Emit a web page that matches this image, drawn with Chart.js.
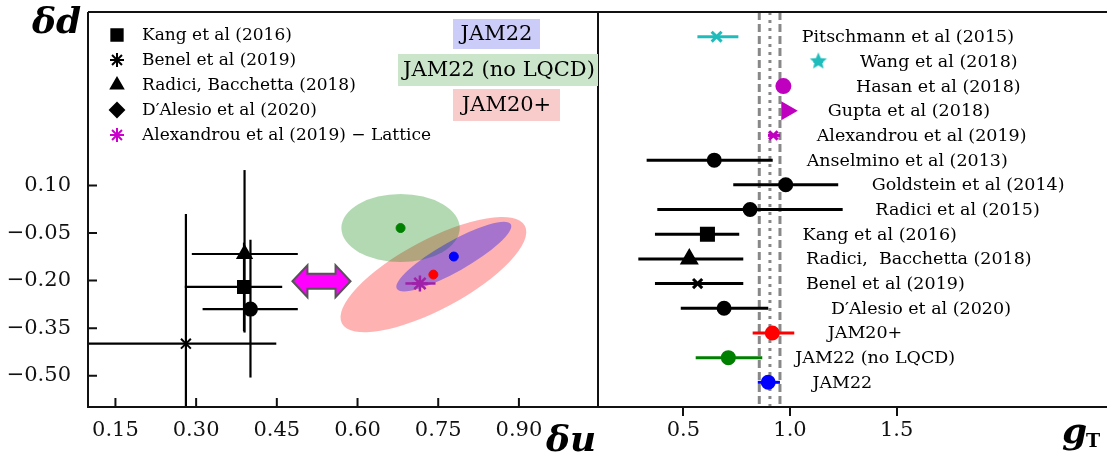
<!DOCTYPE html>
<html>
<head>
<meta charset="utf-8">
<script src="https://cdn.jsdelivr.net/npm/chart.js@4"></script>
<style>
body { margin: 0; background: #fff; width: 1107px; height: 458px; overflow: hidden; position: relative; }
#wrapL { position: absolute; left: 0; top: 0; width: 600px; height: 458px; }
#wrapR { position: absolute; left: 598px; top: 0; width: 509px; height: 458px; }
</style>
</head>
<body>
<div id="wrapL"><canvas id="leftChart"></canvas></div>
<div id="wrapR"><canvas id="rightChart"></canvas></div>
<script>
// ---- left panel data (delta u, delta d) ----
var uTicks = [0.15, 0.30, 0.45, 0.60, 0.75, 0.90];
var dTicks = [0.10, -0.05, -0.20, -0.35, -0.50];

var phenoNames = ["Kang et al (2016)", "Benel et al (2019)", "Radici, Bacchetta (2018)", "D\u2032Alesio et al (2020)"];
var phenoU   = [0.389, 0.281, 0.390, 0.401];
var phenoULo = [0.279, 0.060, 0.292, 0.312];
var phenoUHi = [0.460, 0.449, 0.489, 0.489];
var phenoD   = [-0.220, -0.399, -0.116, -0.290];
var phenoDLo = [-0.360, -0.810, -0.364, -0.506];
var phenoDHi = [-0.080, 0.010, 0.149, -0.071];

var latticeName = "Alexandrou et al (2019) \u2212 Lattice";
var latticeU = [0.716], latticeULo = [0.689], latticeUHi = [0.745];
var latticeD = [-0.209];

var jamNames = ["JAM22", "JAM22 (no LQCD)", "JAM20+"];
var jamU = [0.779, 0.680, 0.741];
var jamD = [-0.124, -0.034, -0.181];
// ellipse: major half-axis (du, dd) and minor/major ratio
var jamAxisU = [0.106, 0.110, 0.170];
var jamAxisD = [0.102, 0.000, 0.154];
var jamRatio = [0.23, 0.576, 0.335];

// ---- right panel data (g_T) ----
var gtNames = ["Pitschmann et al (2015)", "Wang et al (2018)", "Hasan et al (2018)", "Gupta et al (2018)",
  "Alexandrou et al (2019)", "Anselmino et al (2013)", "Goldstein et al (2014)", "Radici et al (2015)",
  "Kang et al (2016)", "Radici,  Bacchetta (2018)", "Benel et al (2019)", "D\u2032Alesio et al (2020)",
  "JAM20+", "JAM22 (no LQCD)", "JAM22"];
var gtVal = [0.656, 1.133, 0.969, 0.985, 0.922, 0.645, 0.980, 0.813, 0.613, 0.528, 0.567, 0.691, 0.917, 0.711, 0.898];
var gtLo  = [0.566, 1.110, 0.945, 0.965, 0.897, 0.328, 0.734, 0.378, 0.367, 0.289, 0.367, 0.488, 0.825, 0.558, 0.849];
var gtHi  = [0.758, 1.155, 0.990, 1.000, 0.953, 0.919, 1.226, 1.247, 0.762, 0.781, 0.781, 0.898, 1.020, 0.870, 0.953];
var gtBand = [0.856, 0.906, 0.953];
var gtTicks = [0.5, 1.0, 1.5];
var gtLabelAt = [1.055, 1.328, 1.309, 1.177, 1.125, 1.078, 1.383, 1.400, 1.059, 1.075, 1.075, 1.192, 1.177, 1.025, 1.105];

// styles
var CYAN = "#1fbcbc", MAG = "#bf00bf", BLK = "#000";
var SERIF = "'DejaVu Serif', serif";

function starCanvas(color, r) {
    var c = document.createElement("canvas");
    c.width = c.height = 2 * r + 2;
    var g = c.getContext("2d");
    g.fillStyle = color;
    g.beginPath();
    for (var k = 0; k < 10; k++) {
        var rr = k % 2 ? r * 0.45 : r;
        var a = -Math.PI / 2 + k * Math.PI / 5;
        g.lineTo(r + 1 + rr * Math.cos(a), r + 1 + rr * Math.sin(a));
    }
    g.closePath();
    g.fill();
    return c;
}

var gtColor = [CYAN, CYAN, MAG, MAG, MAG, BLK, BLK, BLK, BLK, BLK, BLK, BLK, "#ff0000", "#008000", "#0000ff"];
var gtStyle = ["crossRot", starCanvas(CYAN, 9), "circle", "triangle", "crossRot", "circle", "circle", "circle",
  "rect", "triangle", "crossRot", "circle", "circle", "circle", "circle"];
var gtRot = [0, 0, 0, 90, 0, 0, 0, 0, 0, 0, 0, 0, 0, 0, 0];
var gtRad = [7, 9, 6.5, 8, 6, 6, 6, 6, 8.5, 8, 6.5, 6, 6, 6, 6];

var phenoStyle = ["rect", "crossRot", "triangle", "circle"];
var phenoRad = [8.5, 7, 8, 6.5];
var jamColor = ["#0000ff", "#008000", "#ff0000"];
var jamFill = ["rgba(0,0,255,0.35)", "rgba(0,128,0,0.3)", "rgba(255,0,0,0.3)"];

function fmtSigned(v, n) {
    return (v < -1e-9 ? "\u2212" : "") + Math.abs(v).toFixed(n);
}

function mark(ctx, style, radius, rot, color, x, y) {
    ctx.save();
    ctx.fillStyle = color;
    ctx.strokeStyle = color;
    ctx.lineWidth = 2;
    Chart.helpers.drawPoint(ctx, {pointStyle: style, radius: radius, rotation: rot || 0, borderWidth: 2}, x, y);
    ctx.restore();
}

// chart.js reserves half a label at the axis ends; these panels don't want that
function noEdgePad(s) {
    s.paddingTop = 0; s.paddingBottom = 0; s.paddingLeft = 0; s.paddingRight = 0;
}

// ---------------- left chart ----------------
var leftSets = [];
for (var i = 0; i < phenoNames.length; i++) {
    leftSets.push({data: [{x: phenoULo[i], y: phenoD[i]}, {x: phenoUHi[i], y: phenoD[i]}],
        showLine: true, borderColor: BLK, borderWidth: 2.2, pointRadius: 0, order: 2});
    leftSets.push({data: [{x: phenoU[i], y: phenoDLo[i]}, {x: phenoU[i], y: phenoDHi[i]}],
        showLine: true, borderColor: BLK, borderWidth: 2.2, pointRadius: 0, order: 2});
    leftSets.push({data: [{x: phenoU[i], y: phenoD[i]}], pointStyle: phenoStyle[i], pointRadius: phenoRad[i],
        backgroundColor: BLK, borderColor: BLK, borderWidth: 2, order: 1});
}
leftSets.push({data: [{x: latticeULo[0], y: latticeD[0]}, {x: latticeUHi[0], y: latticeD[0]}],
    showLine: true, borderColor: "#a020a8", borderWidth: 2.5, pointRadius: 0, order: 2});
leftSets.push({data: [{x: latticeU[0], y: latticeD[0]}], pointStyle: "star", pointRadius: 8,
    borderColor: "#a020a8", borderWidth: 2.5, order: 1});
for (var j = 0; j < jamNames.length; j++) {
    leftSets.push({data: [{x: jamU[j], y: jamD[j]}], pointStyle: "circle", pointRadius: 4.5,
        backgroundColor: jamColor[j], borderColor: jamColor[j], order: 0});
}

var leftPlugin = {
    id: "leftDeco",
    beforeDatasetsDraw: function(chart) {
        var ctx = chart.ctx, ca = chart.chartArea, xs = chart.scales.x, ys = chart.scales.y;
        ctx.save();
        ctx.beginPath();
        ctx.rect(ca.left, ca.top, ca.right - ca.left, ca.bottom - ca.top);
        ctx.clip();
        var order = [2, 1, 0];
        order.forEach(function(k) {
            var cx = xs.getPixelForValue(jamU[k]), cy = ys.getPixelForValue(jamD[k]);
            var ax = xs.getPixelForValue(jamU[k] + jamAxisU[k]) - cx;
            var ay = ys.getPixelForValue(jamD[k] + jamAxisD[k]) - cy;
            var a = Math.sqrt(ax * ax + ay * ay);
            ctx.beginPath();
            ctx.ellipse(cx, cy, a, a * jamRatio[k], Math.atan2(ay, ax), 0, 2 * Math.PI);
            ctx.fillStyle = jamFill[k];
            ctx.fill();
        });
        ctx.restore();
    },
    afterDatasetsDraw: function(chart) {
        var ctx = chart.ctx, ca = chart.chartArea, xs = chart.scales.x, ys = chart.scales.y;
        ctx.save();
        // arrow
        var xl = xs.getPixelForValue(0.479), xr = xs.getPixelForValue(0.587), yc = ys.getPixelForValue(-0.202);
        ctx.beginPath();
        ctx.moveTo(xl, yc);
        ctx.lineTo(xl + 15, yc - 16); ctx.lineTo(xl + 15, yc - 7.5);
        ctx.lineTo(xr - 15, yc - 7.5); ctx.lineTo(xr - 15, yc - 16);
        ctx.lineTo(xr, yc);
        ctx.lineTo(xr - 15, yc + 16); ctx.lineTo(xr - 15, yc + 7.5);
        ctx.lineTo(xl + 15, yc + 7.5); ctx.lineTo(xl + 15, yc + 16);
        ctx.closePath();
        ctx.fillStyle = "#ff00ff";
        ctx.fill();
        ctx.strokeStyle = "#555";
        ctx.lineWidth = 2;
        ctx.stroke();

        // frame
        ctx.strokeStyle = "#111";
        ctx.lineWidth = 2;
        ctx.beginPath();
        ctx.moveTo(ca.left, ca.top); ctx.lineTo(chart.width, ca.top);
        ctx.moveTo(ca.left, ca.top); ctx.lineTo(ca.left, ca.bottom);
        ctx.moveTo(ca.left - 1, ca.bottom); ctx.lineTo(chart.width, ca.bottom);
        ctx.moveTo(ca.right, ca.top); ctx.lineTo(ca.right, ca.bottom);
        xs.ticks.forEach(function(t) {
            var px = xs.getPixelForValue(t.value);
            ctx.moveTo(px, ca.bottom); ctx.lineTo(px, ca.bottom - 9);
        });
        ys.ticks.forEach(function(t) {
            var py = ys.getPixelForValue(t.value);
            ctx.moveTo(ca.left, py); ctx.lineTo(ca.left + 9, py);
        });
        ctx.stroke();

        // legend
        var legStyle = ["rect", "star", "triangle", "rectRot", "star"];
        var legNames = phenoNames.concat([latticeName]);
        ctx.font = "17px " + SERIF;
        ctx.textBaseline = "middle";
        ctx.textAlign = "left";
        for (var i = 0; i < legNames.length; i++) {
            var y = ca.top + 23 + i * 25;
            var col = i === 4 ? "#cc00cc" : BLK;
            mark(ctx, legStyle[i], legStyle[i] === "rect" ? 8 : 7, 0, col, 117, y);
            ctx.fillStyle = BLK;
            ctx.fillText(legNames[i], 142, y + 1);
        }

        // JAM label boxes
        var boxes = [[453, 19, 87, 30], [398, 54, 200, 32], [453, 89, 107, 32]];
        var boxFill = ["#ccccf8", "#cbe5cb", "#f9cccc"];
        ctx.font = "21px " + SERIF;
        ctx.textAlign = "center";
        for (var k = 0; k < 3; k++) {
            var b = boxes[k];
            ctx.fillStyle = boxFill[k];
            ctx.fillRect(b[0], b[1], b[2], b[3]);
            ctx.fillStyle = BLK;
            ctx.fillText(jamNames[k], b[0] + b[2] / 2 + (k === 1 ? 1 : 0), b[1] + b[3] / 2 + 1);
        }

        // axis titles
        ctx.font = "bold italic 36px " + SERIF;
        ctx.textAlign = "left";
        ctx.textBaseline = "alphabetic";
        ctx.fillText("\u03b4d", 32, 33);
        ctx.fillText("\u03b4u", 546, 451);
        ctx.restore();
    }
};

new Chart(document.getElementById("leftChart"), {
    type: "scatter",
    data: {datasets: leftSets},
    options: {
        responsive: true,
        maintainAspectRatio: false,
        animation: false,
        layout: {autoPadding: false, padding: {top: 12, right: 2, left: 0, bottom: 0}},
        plugins: {legend: {display: false}, tooltip: {enabled: false}},
        scales: {
            x: {
                type: "linear", min: 0.099, max: 1.047,
                afterBuildTicks: function(s) { s.ticks = uTicks.map(function(v) { return {value: v}; }); },
                afterFit: function(s) { s.height = 51; noEdgePad(s); },
                grid: {display: false}, border: {display: false},
                ticks: {padding: 3, color: "#111", font: {family: SERIF, size: 21},
                    callback: function(v) { return fmtSigned(v, 2); }}
            },
            y: {
                type: "linear", min: -0.599, max: 0.648,
                afterBuildTicks: function(s) { s.ticks = dTicks.map(function(v) { return {value: v}; }); },
                afterFit: function(s) { s.width = 88; noEdgePad(s); },
                grid: {display: false}, border: {display: false},
                ticks: {padding: 9, color: "#111", font: {family: SERIF, size: 21},
                    callback: function(v) { return fmtSigned(v, 2); }}
            }
        }
    },
    plugins: [leftPlugin]
});

// ---------------- right chart ----------------
var rightSets = [];
for (var n = 0; n < gtNames.length; n++) {
    rightSets.push({data: [{x: gtLo[n], y: n}, {x: gtHi[n], y: n}], showLine: true,
        borderColor: gtColor[n], borderWidth: 3, pointRadius: 0, order: 2});
    rightSets.push({data: [{x: gtVal[n], y: n}], pointStyle: gtStyle[n], pointRadius: gtRad[n],
        rotation: gtRot[n], backgroundColor: gtColor[n], borderColor: gtColor[n], borderWidth: 3, order: 1});
}
rightSets.push({data: [{x: gtBand[0], y: -1}, {x: gtBand[0], y: 15}], showLine: true, borderColor: "#888",
    borderWidth: 3, borderDash: [8, 4], pointRadius: 0, order: 3});
rightSets.push({data: [{x: gtBand[2], y: -1}, {x: gtBand[2], y: 15}], showLine: true, borderColor: "#888",
    borderWidth: 3, borderDash: [8, 4], pointRadius: 0, order: 3});
rightSets.push({data: [{x: gtBand[1], y: -1}, {x: gtBand[1], y: 15}], showLine: true, borderColor: "#888",
    borderWidth: 3, borderDash: [3, 5], pointRadius: 0, order: 3});

var rightPlugin = {
    id: "rightDeco",
    afterDatasetsDraw: function(chart) {
        var ctx = chart.ctx, ca = chart.chartArea, xs = chart.scales.x, ys = chart.scales.y;
        ctx.save();
        ctx.strokeStyle = "#111";
        ctx.lineWidth = 2;
        ctx.beginPath();
        ctx.moveTo(0, ca.top); ctx.lineTo(chart.width, ca.top);
        ctx.moveTo(0, ca.bottom); ctx.lineTo(chart.width, ca.bottom);
        ctx.stroke();

        ctx.fillStyle = BLK;
        ctx.font = "17.5px " + SERIF;
        ctx.textBaseline = "middle";
        ctx.textAlign = "left";
        for (var i = 0; i < gtNames.length; i++) {
            ctx.fillText(gtNames[i], xs.getPixelForValue(gtLabelAt[i]), ys.getPixelForValue(i) + 1);
        }
        ctx.textBaseline = "alphabetic";
        ctx.font = "bold italic 36px " + SERIF;
        ctx.fillText("g", 464, 443);
        ctx.font = "bold 19px " + SERIF;
        ctx.fillText("T", 488, 447);
        ctx.restore();
    }
};

new Chart(document.getElementById("rightChart"), {
    type: "scatter",
    data: {datasets: rightSets},
    options: {
        responsive: true,
        maintainAspectRatio: false,
        animation: false,
        layout: {autoPadding: false, padding: {top: 12, right: 0, left: 0, bottom: 0}},
        plugins: {legend: {display: false}, tooltip: {enabled: false}},
        scales: {
            x: {
                type: "linear", min: 0.1, max: 2.486,
                afterBuildTicks: function(s) { s.ticks = gtTicks.map(function(v) { return {value: v}; }); },
                afterFit: function(s) { s.height = 51; noEdgePad(s); },
                grid: {display: true, drawOnChartArea: false, drawTicks: true, tickLength: 9, color: "#111", lineWidth: 2},
                border: {display: false},
                ticks: {padding: 2, color: "#111", font: {family: SERIF, size: 21},
                    callback: function(v) { return v.toFixed(1); }}
            },
            y: {type: "linear", min: -1, max: 15, reverse: true, display: false}
        }
    },
    plugins: [rightPlugin]
});
</script>
</body>
</html>
